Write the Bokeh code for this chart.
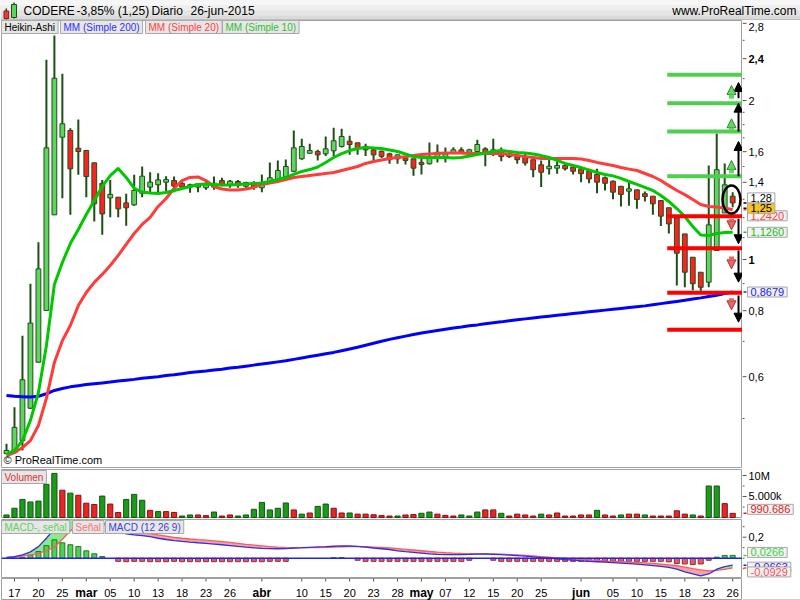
import numpy as np
from bokeh.plotting import figure
from bokeh.layouts import column, row
from bokeh.models import Range1d, Label, Arrow, NormalHead, Span
from bokeh.core.properties import value
from bokeh.embed import file_html
from bokeh.resources import INLINE

FONT = "Liberation Sans"

# ------------------------------------------------------------------ data
symbol = "CODERE"
change_pct = -3.85
last_price = 1.25
period = "Diario"
date_txt = "26-jun-2015"

# Heikin-Ashi candles, one per trading day 16-feb-2015 .. 26-jun-2015
ha_open = [0.429, 0.431, 0.454, 0.523, 0.639, 0.801, 1.215, 1.704, 1.755, 1.624,
           1.608, 1.524, 1.394, 1.308, 1.312, 1.280, 1.269, 1.335, 1.371, 1.385,
           1.401, 1.411, 1.394, 1.371, 1.371, 1.367, 1.371, 1.411, 1.382, 1.405,
           1.376, 1.394, 1.367, 1.394, 1.411, 1.436, 1.469, 1.551, 1.589, 1.601,
           1.585, 1.606, 1.637, 1.675, 1.663, 1.637, 1.613, 1.603, 1.585, 1.551,
           1.557, 1.551, 1.527, 1.518, 1.561, 1.561, 1.594, 1.613, 1.596, 1.601,
           1.620, 1.585, 1.596, 1.585, 1.566, 1.566, 1.545, 1.511, 1.485, 1.489,
           1.507, 1.496, 1.485, 1.469, 1.449, 1.428, 1.407, 1.376, 1.347, 1.355,
           1.332, 1.318, 1.293, 1.253, 1.199, 1.118, 1.010, 0.946, 0.906, 1.040,
           1.225, 1.318]
ha_close = [0.435, 0.481, 0.592, 0.758, 0.960, 1.627, 2.204, 1.807, 1.485, 1.601,
            1.436, 1.275, 1.220, 1.328, 1.247, 1.253, 1.351, 1.438, 1.401, 1.415,
            1.417, 1.377, 1.371, 1.385, 1.391, 1.391, 1.394, 1.387, 1.407, 1.382,
            1.399, 1.371, 1.391, 1.428, 1.474, 1.500, 1.627, 1.637, 1.608, 1.578,
            1.620, 1.678, 1.710, 1.651, 1.625, 1.613, 1.578, 1.568, 1.545, 1.578,
            1.540, 1.489, 1.513, 1.566, 1.596, 1.585, 1.613, 1.594, 1.613, 1.651,
            1.585, 1.613, 1.566, 1.566, 1.545, 1.523, 1.479, 1.463, 1.502, 1.507,
            1.485, 1.469, 1.454, 1.421, 1.401, 1.394, 1.341, 1.328, 1.361, 1.299,
            1.316, 1.275, 1.208, 1.168, 1.028, 0.946, 0.900, 0.886, 1.163, 1.479,
            1.385, 1.280]
ha_high = [0.448, 0.525, 0.717, 0.900, 1.078, 2.388, 2.654, 2.247, 1.773, 1.841,
           1.608, 1.524, 1.415, 1.415, 1.312, 1.332, 1.447, 1.500, 1.463, 1.457,
           1.438, 1.436, 1.401, 1.391, 1.394, 1.411, 1.436, 1.428, 1.415, 1.415,
           1.403, 1.407, 1.449, 1.527, 1.540, 1.547, 1.755, 1.693, 1.657, 1.613,
           1.710, 1.776, 1.768, 1.716, 1.663, 1.657, 1.632, 1.608, 1.592, 1.580,
           1.571, 1.551, 1.557, 1.665, 1.651, 1.629, 1.632, 1.632, 1.620, 1.686,
           1.632, 1.693, 1.629, 1.592, 1.585, 1.585, 1.545, 1.540, 1.547, 1.540,
           1.518, 1.502, 1.502, 1.474, 1.485, 1.436, 1.411, 1.376, 1.401, 1.355,
           1.345, 1.318, 1.293, 1.253, 1.199, 1.118, 1.010, 0.946, 1.507, 1.732,
           1.520, 1.341]
ha_low = [0.429, 0.429, 0.435, 0.521, 0.639, 0.801, 1.215, 1.306, 1.215, 1.447,
          1.312, 1.180, 1.114, 1.202, 1.202, 1.159, 1.264, 1.312, 1.341, 1.341,
          1.347, 1.341, 1.361, 1.338, 1.341, 1.355, 1.355, 1.376, 1.367, 1.367,
          1.367, 1.355, 1.341, 1.391, 1.407, 1.432, 1.463, 1.545, 1.585, 1.540,
          1.571, 1.571, 1.629, 1.578, 1.578, 1.571, 1.540, 1.557, 1.518, 1.518,
          1.513, 1.441, 1.449, 1.513, 1.527, 1.527, 1.589, 1.589, 1.589, 1.589,
          1.502, 1.571, 1.535, 1.557, 1.518, 1.507, 1.432, 1.371, 1.449, 1.454,
          1.474, 1.449, 1.401, 1.394, 1.335, 1.351, 1.300, 1.260, 1.264, 1.247,
          1.288, 1.215, 1.157, 1.120, 0.893, 0.886, 0.874, 0.872, 0.886, 1.040,
          1.225, 1.256]

ma200 = [0.553, 0.551, 0.550, 0.549, 0.551, 0.557, 0.565, 0.570, 0.574, 0.577,
         0.580, 0.582, 0.584, 0.586, 0.589, 0.591, 0.593, 0.596, 0.598, 0.600,
         0.603, 0.605, 0.608, 0.611, 0.613, 0.615, 0.618, 0.620, 0.623, 0.625,
         0.628, 0.631, 0.634, 0.637, 0.640, 0.643, 0.647, 0.651, 0.655, 0.659,
         0.663, 0.667, 0.672, 0.677, 0.682, 0.688, 0.694, 0.700, 0.706, 0.711,
         0.716, 0.721, 0.726, 0.730, 0.734, 0.738, 0.742, 0.745, 0.749, 0.752,
         0.756, 0.759, 0.762, 0.766, 0.769, 0.772, 0.775, 0.778, 0.781, 0.784,
         0.787, 0.790, 0.793, 0.796, 0.799, 0.802, 0.805, 0.808, 0.811, 0.814,
         0.817, 0.821, 0.825, 0.829, 0.833, 0.837, 0.842, 0.846, 0.851, 0.856,
         0.862, 0.8679]
ma20 = [0.4255, 0.431, 0.4406, 0.454, 0.485, 0.546, 0.638, 0.702, 0.750, 0.818,
        0.866, 0.905, 0.937, 0.974, 1.018, 1.068, 1.120, 1.165, 1.201, 1.260,
        1.305, 1.363, 1.411, 1.430, 1.433, 1.411, 1.375, 1.360, 1.354, 1.354,
        1.360, 1.369, 1.387, 1.396, 1.405, 1.417, 1.430, 1.436, 1.442, 1.449,
        1.455, 1.461, 1.474, 1.487, 1.500, 1.520, 1.533, 1.543, 1.553, 1.560,
        1.566, 1.573, 1.580, 1.584, 1.587, 1.591, 1.591, 1.591, 1.587, 1.587,
        1.587, 1.587, 1.587, 1.580, 1.573, 1.566, 1.560, 1.553, 1.553, 1.553,
        1.553, 1.553, 1.550, 1.540, 1.527, 1.517, 1.507, 1.493, 1.483, 1.474,
        1.455, 1.436, 1.411, 1.380, 1.351, 1.327, 1.299, 1.271, 1.260, 1.257,
        1.252, 1.242]
ma10 = [0.4274, 0.435, 0.454, 0.496, 0.560, 0.687, 0.897, 0.987, 1.072, 1.140,
        1.217, 1.293, 1.375, 1.442, 1.487, 1.430, 1.363, 1.342, 1.336, 1.333,
        1.339, 1.351, 1.363, 1.375, 1.387, 1.390, 1.387, 1.384, 1.384, 1.387,
        1.390, 1.393, 1.396, 1.405, 1.417, 1.430, 1.449, 1.468, 1.480, 1.497,
        1.526, 1.560, 1.587, 1.608, 1.622, 1.629, 1.626, 1.622, 1.612, 1.601,
        1.584, 1.566, 1.560, 1.560, 1.560, 1.560, 1.557, 1.560, 1.570, 1.580,
        1.591, 1.601, 1.608, 1.601, 1.594, 1.591, 1.584, 1.573, 1.560, 1.540,
        1.520, 1.507, 1.493, 1.477, 1.461, 1.449, 1.440, 1.424, 1.405, 1.387,
        1.369, 1.351, 1.322, 1.288, 1.249, 1.206, 1.155, 1.113, 1.110, 1.120,
        1.125, 1.126]

# volume in millions of shares, and whether the bar is green (1) or red (0)
volume_m = [0.6, 2.2, 4.3, 3.7, 3.9, 7.9, 10.5, 6.5, 5.8, 5.3,
            3.4, 3.1, 5.1, 3.2, 1.2, 4.3, 5.5, 4.1, 1.7, 1.4,
            1.4, 1.2, 0.35, 0.6, 0.6, 0.45, 1.3, 0.35, 0.6, 0.35,
            0.6, 1.95, 3.6, 1.8, 2.2, 3.45, 1.8, 0.8, 1.07, 2.65,
            3.2, 2.2, 1.07, 1.07, 0.8, 0.8, 0.65, 0.45, 0.35, 0.35,
            0.6, 0.7, 1.0, 1.3, 0.8, 0.5, 0.35, 0.6, 0.35, 1.3,
            1.8, 1.8, 1.0, 0.35, 0.8, 0.6, 0.35, 0.8, 0.6, 1.07,
            0.35, 0.35, 0.6, 0.6, 1.7, 0.6, 0.35, 0.6, 0.8, 0.8,
            0.6, 0.35, 0.35, 0.35, 1.6, 0.8, 0.6, 0.35, 7.5, 7.5,
            3.3, 0.990686]
volume_up = [1, 1, 1, 1, 1, 1, 1, 0, 1, 0,
             0, 0, 1, 0, 0, 1, 1, 1, 0, 1,
             0, 0, 1, 1, 0, 0, 1, 0, 0, 1,
             1, 1, 1, 1, 1, 1, 0, 1, 0, 1,
             1, 0, 0, 1, 0, 0, 0, 0, 0, 1,
             0, 0, 1, 1, 0, 0, 0, 1, 1, 1,
             0, 0, 1, 0, 0, 0, 0, 1, 0, 0,
             0, 0, 0, 0, 1, 0, 0, 1, 0, 0,
             1, 0, 0, 0, 0, 0, 1, 0, 1, 1,
             0, 0]

macd_line = [0.008, 0.014, 0.032, 0.06, 0.11, 0.19, 0.28, 0.33, 0.39, 0.42,
             0.41, 0.38, 0.34, 0.30, 0.255, 0.232, 0.222, 0.215, 0.205, 0.19,
             0.178, 0.168, 0.16, 0.153, 0.147, 0.142, 0.135, 0.128, 0.12, 0.112,
             0.105, 0.099, 0.094, 0.091, 0.090, 0.092, 0.097, 0.100, 0.104, 0.107,
             0.110, 0.114, 0.117, 0.116, 0.112, 0.105, 0.097, 0.090, 0.083, 0.070,
             0.062, 0.055, 0.048, 0.041, 0.036, 0.034, 0.034, 0.035, 0.036, 0.038,
             0.040, 0.037, 0.034, 0.030, 0.025, 0.020, 0.013, 0.006, 0.0, -0.006,
             -0.013, -0.019, -0.025, -0.030, -0.034, -0.038, -0.042, -0.047, -0.052, -0.057,
             -0.063, -0.070, -0.078, -0.087, -0.105, -0.130, -0.150, -0.168, -0.150, -0.105,
             -0.080, -0.0663]
macd_signal = [0.006, 0.009, 0.022, 0.03, 0.046, 0.07, 0.105, 0.18, 0.26, 0.31,
               0.34, 0.34, 0.325, 0.30, 0.285, 0.262, 0.252, 0.245, 0.235, 0.222,
               0.21, 0.198, 0.19, 0.183, 0.177, 0.172, 0.165, 0.158, 0.15, 0.142,
               0.132, 0.125, 0.118, 0.111, 0.105, 0.101, 0.099, 0.099, 0.100, 0.101,
               0.103, 0.106, 0.109, 0.111, 0.111, 0.109, 0.106, 0.103, 0.099, 0.092,
               0.085, 0.078, 0.071, 0.064, 0.058, 0.053, 0.049, 0.046, 0.044, 0.042,
               0.041, 0.040, 0.038, 0.035, 0.031, 0.027, 0.022, 0.016, 0.010, 0.004,
               -0.002, -0.007, -0.012, -0.017, -0.022, -0.028, -0.031, -0.034, -0.037, -0.040,
               -0.045, -0.050, -0.056, -0.063, -0.072, -0.085, -0.100, -0.112, -0.120, -0.115,
               -0.106, -0.0929]
macd_hist = [0, 0, 0.01, 0.03, 0.064, 0.12, 0.175, 0.147, 0.128, 0.111,
             0.07, 0.042, 0.016, 0, -0.03, -0.033, -0.03, -0.03, -0.033, -0.033,
             -0.033, -0.03, -0.033, -0.033, -0.033, -0.033, -0.033, -0.033, -0.033, -0.033,
             -0.033, -0.033, -0.033, -0.03, -0.03, -0.03, 0, 0, 0, 0,
             0, 0.005, 0.005, 0, -0.02, -0.03, -0.03, -0.03, -0.03, -0.03,
             -0.03, -0.03, -0.03, -0.03, -0.03, -0.03, -0.03, -0.03, -0.02, 0,
             0, -0.02, -0.03, -0.03, -0.03, -0.03, -0.03, -0.03, -0.03, -0.03,
             -0.03, -0.03, -0.03, -0.03, -0.03, -0.03, -0.03, -0.03, -0.03, -0.03,
             -0.03, -0.03, -0.03, -0.035, -0.05, -0.055, -0.06, -0.055, -0.02, 0.01,
             0.026, 0.0266]

# date axis
tick_idx = [1, 4, 7, 10, 13, 16, 19, 22, 25, 28, 32, 37, 40, 43, 46, 49, 52, 55, 58,
            61, 64, 67, 72, 76, 79, 82, 85, 88, 91]
tick_text = ["17", "20", "25", "mar", "05", "10", "13", "18", "23", "26", "abr", "10",
             "15", "20", "23", "28", "may", "07", "12", "15", "20", "25", "jun", "05",
             "10", "15", "18", "23", "26"]
month_names = ["mar", "abr", "may", "jun"]

# value axes
price_ticks = [0.6, 0.8, 1, 1.4, 1.6, 2, 2.4, 2.8]
price_bold = [1, 2.4]
price_minor = [0.5, 0.7, 0.9, 1.1, 1.2, 1.3, 1.5, 1.7, 1.8, 1.9, 2.2, 2.6]
vol_ticks = [5, 10]
vol_tick_text = ["5.000k", "10M"]
vol_minor = [2.5, 7.5]
macd_ticks = [0.2]
macd_minor = [0.3, 0.1, 0.0, -0.1]

# drawn support / resistance levels and their arrows
up_levels = [2.237, 1.977, 1.747, 1.438]
down_levels = [1.208, 1.050, 0.865, 0.736]
black_up_from = [1.438, 1.747, 2.020]
black_up_to = [1.673, 1.977, 2.163]
black_dn_from = [1.194, 1.040, 0.855]
black_dn_to = [1.071, 0.906, 0.761]
green_arrow_from = [2.015, 1.755, 1.457]
green_arrow_to = [2.135, 1.847, 1.540]
red_arrow_from = [1.194, 1.013, 0.845]
red_arrow_to = [1.138, 0.960, 0.803]
circle_price = 1.299

# ------------------------------------------------------------------ layout
W = 800
LB, RB = 1, 58
PW = W - RB          # width of the plotting figures (frame + 1px left border)
n = len(ha_open)
idx = np.arange(n)
XR = Range1d(-0.627, 92.23)

GRAY = "#a0a0a0"
WICK = "#1f4f17"
TICKC = "#505050"


def fmt(v, d):
    return f"{v:.{d}f}".replace(".", ",")


def tick_str(t):
    return str(t).replace(".", ",")


def panel(height, y_range, y_type="linear", top_border=0):
    p = figure(width=PW, height=height, x_range=XR, y_range=y_range, y_axis_type=y_type,
               y_axis_location=None, x_axis_location=None, toolbar_location=None,
               output_backend="svg", min_border_left=LB, min_border_right=0,
               min_border_top=top_border, min_border_bottom=0)
    p.grid.visible = False
    p.outline_line_color = GRAY
    p.background_fill_color = "white"
    p.border_fill_color = "white"
    return p


def side(height, y_range, y_type="linear", top_border=0):
    s = figure(width=RB, height=height, x_range=Range1d(0, RB), y_range=y_range,
               y_axis_type=y_type, y_axis_location=None, x_axis_location=None,
               toolbar_location=None, output_backend="svg", min_border_left=0,
               min_border_right=0, min_border_top=top_border, min_border_bottom=0)
    s.grid.visible = False
    s.outline_line_color = None
    s.background_fill_color = "white"
    s.border_fill_color = "white"
    return s


def axis_marks(s, ticks, labels, minor, bold=(), top_label=None):
    s.segment(x0=0, x1=4, y0=ticks, y1=ticks, line_color=TICKC)
    s.segment(x0=0, x1=2, y0=minor, y1=minor, line_color=TICKC)
    for want_bold in (False, True):
        sel = [(t, l) for t, l in zip(ticks, labels) if (t in bold) == want_bold]
        for baseline in ("middle", "top"):
            sub = [(t, l) for t, l in sel if (t == top_label) == (baseline == "top")]
            if not sub:
                continue
            s.text(x=6, y=[t for t, _ in sub], text=[l for _, l in sub],
                   text_baseline=baseline, text_font=value(FONT), text_font_size="11px",
                   text_color="black", text_font_style="bold" if want_bold else "normal")


def box(p, text, x, y, color, bg="#e6e6e6", x_units="screen", y_units="screen",
        anchor="top_left", y_offset=0, size="10px"):
    p.add_layout(Label(x=x, y=y, x_units=x_units, y_units=y_units, text=text,
                       anchor=anchor, text_color=color, text_font=FONT,
                       text_font_size=size, background_fill_color=bg,
                       border_line_color="#a8a8a8", padding=dict(x=3, y=1),
                       y_offset=y_offset))


def value_box(s, v, text, color, bg="#f2f2f2", y_offset=0):
    s.segment(x0=1, x1=4, y0=[v], y1=[v], line_color=color, line_width=1.5)
    box(s, text, 5, v, color, bg=bg, x_units="data", y_units="data",
        anchor="center_left", y_offset=y_offset, size="11px")


# ---------------- header
HH = 20
ph = figure(width=W, height=HH, x_range=Range1d(0, W), y_range=Range1d(HH, 0),
            toolbar_location=None, output_backend="svg", min_border=0,
            x_axis_location=None, y_axis_location=None)
ph.outline_line_color = None
ph.grid.visible = False
ph.background_fill_color = "#ececec"
ph.border_fill_color = "#ececec"
ph.quad(left=[0] * 4, right=[W] * 4, top=[0, 5, 10, 15], bottom=[5, 10, 15, HH],
        fill_color=["#f7f7f7", "#eeeeee", "#e4e4e4", "#dadada"], line_color=None)
ph.segment(x0=[0], y0=[HH - 0.5], x1=[W], y1=[HH - 0.5], line_color=GRAY)
ph.segment(x0=[5.8, 13.5], y0=[8, 2], x1=[5.8, 13.5], y1=[19, 18], line_color=WICK, line_width=1.5)
ph.quad(left=[3.5, 11], right=[8.2, 16], top=[10.5, 4], bottom=[18, 17],
        fill_color=["#f03a3a", "#5ed55e"], line_color=["#8a1a1a", WICK])
head_txt = [symbol, f"{fmt(change_pct, 2)}% ({fmt(last_price, 2)})", period, date_txt]
ph.text(x=[23, 76, 151, 190], y=[10.5] * 4, text=head_txt, text_baseline="middle",
        text_font=value(FONT), text_font_size="12px", text_color="black")
ph.text(x=[796], y=[10.5], text=["www.ProRealTime.com"], text_align="right",
        text_baseline="middle", text_font=value(FONT), text_font_size="12px",
        text_color="black")

# ---------------- main price panel
MH = 448
PR = Range1d(0.4021, 2.8346)
pm = panel(MH, PR, "log")
sm = side(MH, PR, "log")
axis_marks(sm, price_ticks, [tick_str(t) for t in price_ticks], price_minor,
           bold=price_bold, top_label=price_ticks[-1])

o = np.array(ha_open)
c = np.array(ha_close)
up = c >= o
pm.segment(x0=idx, y0=ha_low, x1=idx, y1=ha_high, line_color=WICK, line_width=2)
pm.vbar(x=idx, width=0.6, top=np.maximum(o, c), bottom=np.minimum(o, c),
        fill_color=np.where(up, "#5ed55e", "#ff2020").tolist(), line_color=WICK, line_width=1)

pm.line(idx, ma200, line_color="#0000ff", line_width=3, line_join="round")
pm.line(idx, ma20, line_color="#ff3c3c", line_width=3, line_join="round")
pm.line(idx, ma10, line_color="#00c800", line_width=3, line_join="round")

LV0, LV1 = 82.8, 93.5
pm.segment(x0=[LV0] * 4, x1=[LV1] * 4, y0=up_levels, y1=up_levels, line_color="#4fcf4f", line_width=4)
pm.segment(x0=[LV0] * 4, x1=[LV1] * 4, y0=down_levels, y1=down_levels, line_color="#ff0000", line_width=4)

XA, XB = 91.73, 90.85
for y0, y1 in zip(black_up_from + black_dn_from, black_up_to + black_dn_to):
    pm.add_layout(Arrow(end=NormalHead(size=9, fill_color="black", line_color="black"),
                        x_start=XA, y_start=y0, x_end=XA, y_end=y1,
                        line_color="black", line_width=2))
for y0, y1 in zip(green_arrow_from, green_arrow_to):
    pm.add_layout(Arrow(end=NormalHead(size=9, fill_color="#66d466", line_color="#2e8b2e"),
                        x_start=XB, y_start=y0, x_end=XB, y_end=y1,
                        line_color="#66d466", line_width=5))
for y0, y1 in zip(red_arrow_from, red_arrow_to):
    pm.add_layout(Arrow(end=NormalHead(size=9, fill_color="#e86666", line_color="#b03030"),
                        x_start=XB, y_start=y0, x_end=XB, y_end=y1,
                        line_color="#e86666", line_width=5))

pm.ellipse(x=[XB], y=[circle_price], width=18, height=28, width_units="screen",
           height_units="screen", fill_color=None, line_color="black", line_width=2.5)

for x, t, col in zip([0, 59, 144, 221],
                     ["Heikin-Ashi", "MM (Simple 200)", "MM (Simple 20)", "MM (Simple 10)"],
                     ["black", "#3030ff", "#ff4040", "#30c030"]):
    box(pm, t, x, MH, col)
pm.add_layout(Label(x=2, y=9, x_units="screen", y_units="screen", text="\u00a9 ProRealTime.com",
                    text_font=FONT, text_font_size="11px", text_color="black",
                    text_baseline="middle"))

value_box(sm, ha_close[-1], fmt(ha_close[-1], 2), "black", bg="white", y_offset=5)
value_box(sm, ma20[-1], fmt(ma20[-1], 4), "#ff4040", y_offset=-6)
value_box(sm, last_price, fmt(last_price, 2), "black", bg="#f7c51e")
value_box(sm, ma10[-1], fmt(ma10[-1], 4), "#20c020")
value_box(sm, ma200[-1], fmt(ma200[-1], 4), "#2020ff")

# ---------------- volume panel
VH = 50
VR = Range1d(-0.24, 11.43)
pv = panel(VH, VR, top_border=1)
sv = side(VH, VR, top_border=1)
axis_marks(sv, vol_ticks, vol_tick_text, vol_minor)
vu = np.array(volume_up) == 1
pv.vbar(x=idx, top=volume_m, bottom=0, width=0.65,
        fill_color=np.where(vu, "#1c9a1c", "#e42828").tolist(),
        line_color=np.where(vu, "#0b5a0b", "#8a1010").tolist())
box(pv, "Volumen", 0, VH - 2, "#e03030")
value_box(sv, volume_m[-1], f"{volume_m[-1] * 1e6:,.0f}".replace(",", "."), "#e02020", y_offset=4)

# ---------------- MACD panel
DH = 60
DR = Range1d(-0.1933, 0.3686)
pd_ = panel(DH, DR, top_border=1)
sd = side(DH, DR, top_border=1)
axis_marks(sd, macd_ticks, [tick_str(t) for t in macd_ticks], macd_minor)
ml = np.array(macd_line)
ms = np.array(macd_signal)
mh = np.array(macd_hist)
pd_.varea(x=idx, y1=ms, y2=np.maximum(ml, ms), fill_color="#8ee88e")
pd_.varea(x=idx, y1=np.minimum(ml, ms), y2=ms, fill_color="#f2a3a3")
nz = mh != 0
pd_.vbar(x=idx[nz], top=mh[nz], bottom=0, width=0.62,
         fill_color=np.where(mh[nz] > 0, "#50d050", "#e06060").tolist(),
         line_color=np.where(mh[nz] > 0, "#1e7a1e", "#a02828").tolist())
pd_.add_layout(Span(location=0, dimension="width", line_color="#2020ff", line_width=1.5))
pd_.line(idx, ms, line_color="#ff5a5a", line_width=1.3)
pd_.line(idx, ml, line_color="#3030e8", line_width=1.3)
for x, t, col in zip([0, 71, 104], ["MACD-, se\u00f1al", "Se\u00f1al", "MACD (12 26 9)"],
                     ["#60d060", "#ff7070", "#4040e0"]):
    box(pd_, t, x, DH - 2, col)
value_box(sd, macd_line[-1], fmt(macd_line[-1], 4), "#2020ff", y_offset=-2)
value_box(sd, macd_hist[-1], fmt(macd_hist[-1], 4), "#40d040", y_offset=3)
value_box(sd, macd_signal[-1], fmt(macd_signal[-1], 4), "#ff5050", y_offset=-4)

# ---------------- date axis strip
AH = 22
px = figure(width=PW, height=AH, x_range=XR, y_range=Range1d(0, AH), toolbar_location=None,
            output_backend="svg", min_border_left=LB, min_border_right=0,
            min_border_top=0, min_border_bottom=0, x_axis_location=None, y_axis_location=None)
px.grid.visible = False
px.outline_line_color = GRAY
px.segment(x0=tick_idx, y0=[AH] * len(tick_idx), x1=tick_idx, y1=[AH - 3] * len(tick_idx),
           line_color=TICKC)
is_month = [t in month_names for t in tick_text]
px.text(x=[x for x, m in zip(tick_idx, is_month) if not m], y=8,
        text=[t for t, m in zip(tick_text, is_month) if not m], text_align="center",
        text_baseline="middle", text_font=value(FONT), text_font_size="11px", text_color="black")
px.text(x=[x for x, m in zip(tick_idx, is_month) if m], y=8,
        text=[t for t, m in zip(tick_text, is_month) if m], text_align="center",
        text_baseline="middle", text_font=value(FONT), text_font_size="12px",
        text_font_style="bold", text_color="black")
sx = side(AH, Range1d(0, AH))
sx.segment(x0=[0], x1=[RB], y0=[0.5], y1=[0.5], line_color=GRAY)

layout = column(ph, row(pm, sm, spacing=0), row(pv, sv, spacing=0),
                row(pd_, sd, spacing=0), row(px, sx, spacing=0), spacing=0)
open("out.html", "w").write(file_html(layout, INLINE))
